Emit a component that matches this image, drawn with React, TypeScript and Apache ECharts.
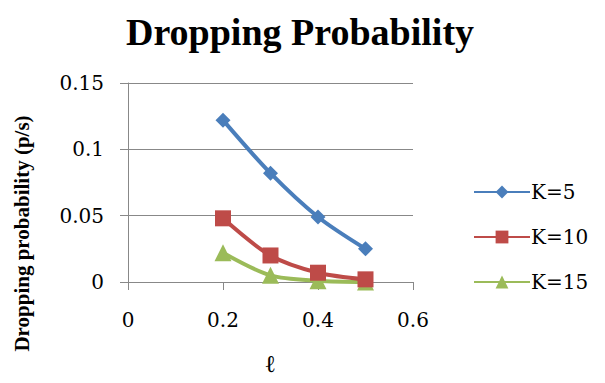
import React, { useEffect, useRef } from "react";
import * as echarts from "echarts";

const xValues = [0.2, 0.3, 0.4, 0.5];
const k5 = [0.122, 0.082, 0.049, 0.025];
const k10 = [0.048, 0.02, 0.007, 0.002];
const k15 = [0.022, 0.005, 0.001, 0.0];
const seriesNames = ["K=5", "K=10", "K=15"];
const colors = ["#4A7EBB", "#BE4B48", "#9BBB59"];
const symbols = ["diamond", "rect", "triangle"];

const FONT = "Liberation Serif";
const REG = "DejaVu Serif";

export default function App() {
  const ref = useRef<HTMLDivElement>(null);
  useEffect(() => {
    if (!ref.current) return;
    const chart = echarts.init(ref.current, null, { renderer: "svg" });
    const all = [k5, k10, k15];
    chart.setOption({
      animation: false,
      backgroundColor: "#fff",
      textStyle: { fontFamily: FONT },
      title: {
        text: "Dropping Probability",
        left: 295,
        textAlign: "center",
        top: 8,
        textStyle: { fontFamily: FONT, fontSize: 38, fontWeight: "bold", color: "#000" },
      },
      grid: { left: 128, right: 192, top: 83, bottom: 101, outerBoundsMode: "none", containLabel: false },
      legend: {
        orient: "vertical",
        left: 468,
        top: 177,
        itemWidth: 56,
        itemHeight: 16,
        itemGap: 25,
        textStyle: { fontFamily: REG, fontSize: 20, fontWeight: "normal", color: "#000", padding: [0, 0, 0, -4] },
        data: seriesNames,
      },
      xAxis: {
        type: "value",
        min: 0,
        max: 0.6,
        interval: 0.2,
        name: "ℓ",
        nameLocation: "middle",
        nameGap: 70,
        nameTextStyle: { fontFamily: FONT, fontSize: 24, fontWeight: "bold", color: "#000" },
        axisLine: { show: true, lineStyle: { color: "#888", width: 1 } },
        axisTick: { show: true, length: 8, inside: false, lineStyle: { color: "#888" } },
        axisLabel: { fontFamily: REG, fontSize: 20, fontWeight: "normal", color: "#000", margin: 28 },
        splitLine: { show: false },
      },
      yAxis: {
        type: "value",
        min: 0,
        max: 0.15,
        interval: 0.05,
        name: "Dropping probability (p/s)",
        nameLocation: "middle",
        nameGap: 96,
        nameTextStyle: { fontFamily: FONT, fontSize: 21, fontWeight: "bold", color: "#000", padding: [0, 102, 0, 0] },
        axisLine: { show: true, lineStyle: { color: "#888", width: 1 } },
        axisTick: { show: true, length: 8, lineStyle: { color: "#888" } },
        axisLabel: {
          fontFamily: REG,
          fontSize: 20,
          fontWeight: "normal",
          color: "#000",
          margin: 24,
          formatter: (v: number) => (v === 0 ? "0" : String(Number(v.toFixed(2)))),
        },
        splitLine: { show: true, lineStyle: { color: "#888", width: 1 } },
      },
      series: seriesNames.map((name, i) => ({
        name,
        type: "line",
        smooth: 0.3,
        data: xValues.map((x, j) => [x, all[i][j]]),
        symbol: symbols[i],
        symbolSize: i === 0 ? 15 : i === 1 ? 16 : 17,
        lineStyle: { color: colors[i], width: 4 },
        itemStyle: { color: colors[i] },
        z: 3 - i,
      })),
    });
    return () => chart.dispose();
  }, []);
  return <div ref={ref} style={{ width: 605, height: 383, margin: -8 }} />;
}
